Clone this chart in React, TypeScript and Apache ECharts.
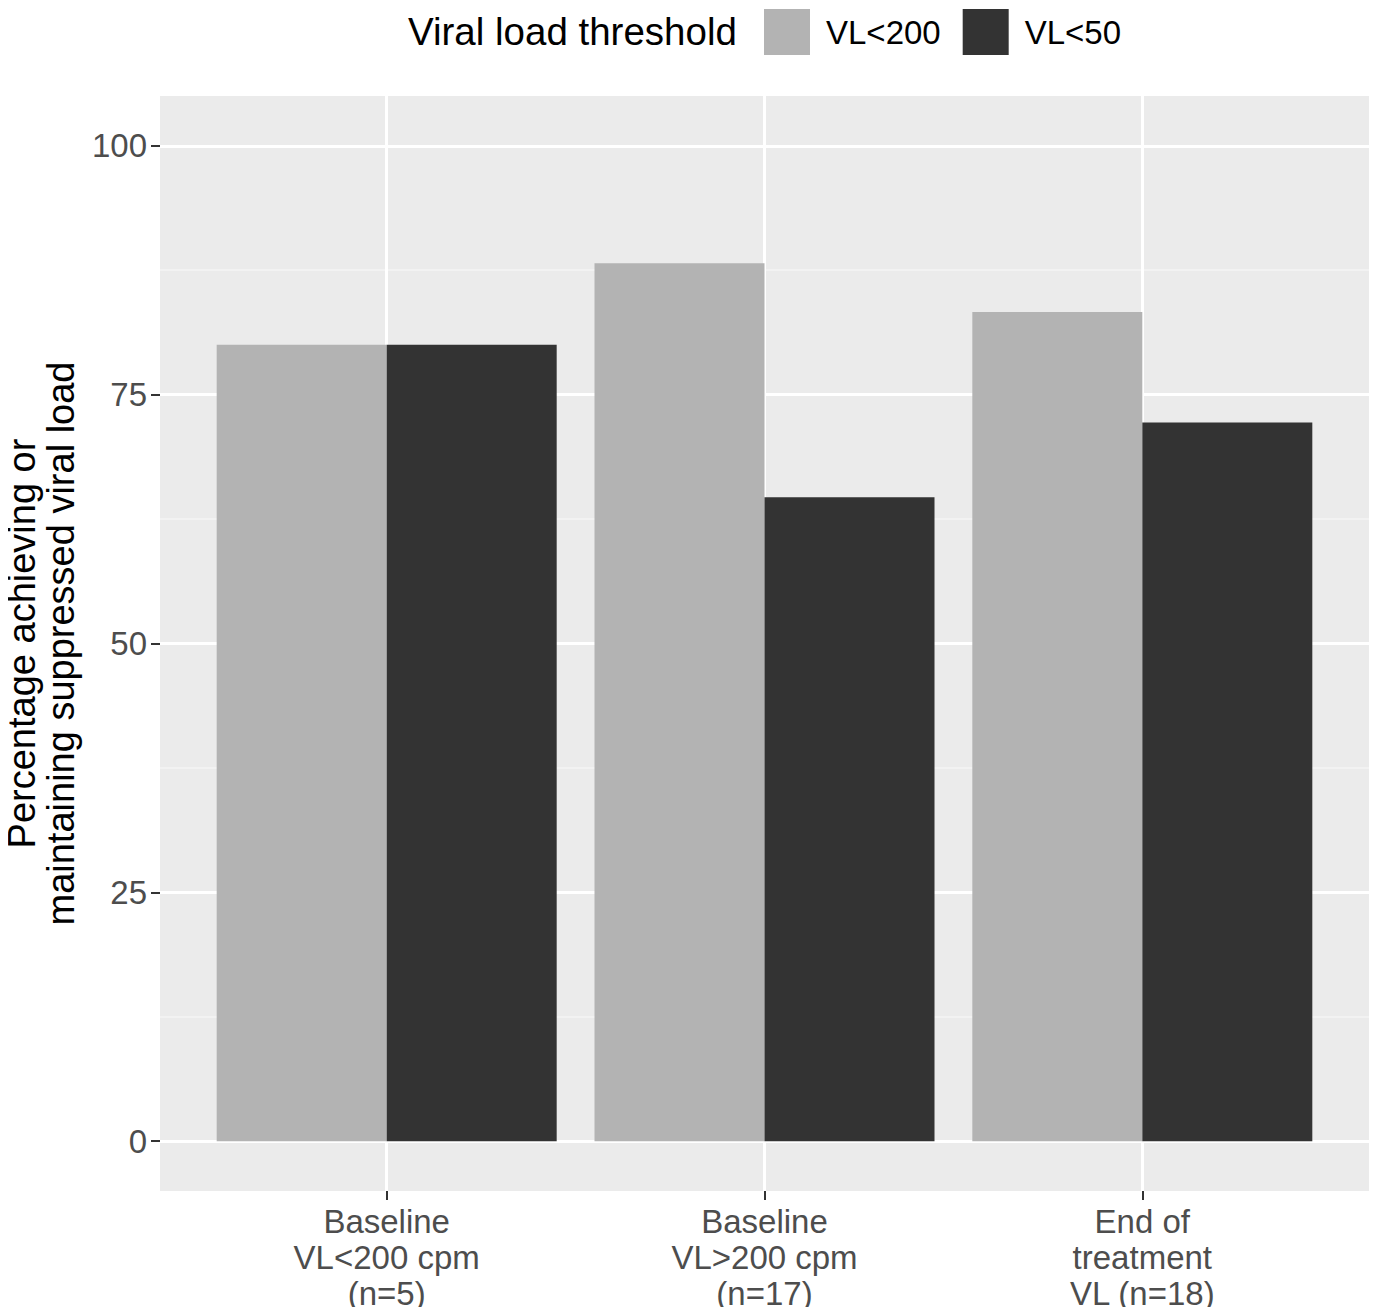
import { useEffect, useRef } from 'react'
import * as echarts from 'echarts'

const categories = ['Baseline\nVL<200 cpm\n(n=5)', 'Baseline\nVL>200 cpm\n(n=17)', 'End of\ntreatment\nVL (n=18)']
const vl200 = [80, 88.2, 83.3]
const vl50 = [80, 64.7, 72.2]
const yTicks = [0, 25, 50, 75, 100]
const yMinor = [12.5, 37.5, 62.5, 87.5]
const xPos = categories.map((_, i) => i + 1)

const FONT = 'Liberation Sans, Arial, sans-serif'

export default function App() {
  const ref = useRef<HTMLDivElement>(null)

  useEffect(() => {
    if (!ref.current) return
    const chart = echarts.init(ref.current, undefined, { renderer: 'svg' })

    const yBase = {
      type: 'value',
      min: -5,
      max: 105,
      axisLine: { show: false, onZero: false },
    }

    chart.setOption({
      animation: false,
      backgroundColor: '#ffffff',
      textStyle: { fontFamily: FONT },
      graphic: [
        {
          type: 'text',
          left: 408,
          top: 12,
          style: { text: 'Viral load threshold', font: `38.5px ${FONT}`, fill: '#000000' },
        },
      ],
      legend: {
        left: 759,
        top: 4,
        itemWidth: 46,
        itemHeight: 46,
        itemGap: 22,
        icon: 'rect',
        textStyle: { fontSize: 33, color: '#000000', padding: [0, 0, 0, 11] },
        data: ['VL<200', 'VL<50'],
      },
      grid: {
        left: 160,
        right: 8,
        top: 96,
        bottom: 124,
        outerBoundsMode: 'none',
        containLabel: false,
        backgroundColor: '#ebebeb',
        show: true,
        borderWidth: 0,
      },
      xAxis: {
        type: 'value',
        min: 0.4,
        max: 3.6,
        axisLine: { show: false, onZero: false },
        axisTick: { show: true, length: 9, customValues: xPos, lineStyle: { color: '#333333', width: 2 } },
        axisLabel: {
          customValues: xPos,
          margin: 12,
          fontSize: 33,
          lineHeight: 36,
          color: '#4d4d4d',
          formatter: (v: number) => categories[Math.round(v) - 1] ?? '',
        },
        splitLine: { show: true, lineStyle: { color: '#ffffff', width: 3 } },
      },
      yAxis: [
        {
          ...yBase,
          name: 'Percentage achieving or\nmaintaining suppressed viral load',
          nameLocation: 'middle',
          nameRotate: 90,
          nameGap: 80,
          nameTextStyle: { fontSize: 38, color: '#000000', lineHeight: 39 },
          axisTick: { show: true, length: 9, customValues: yTicks, lineStyle: { color: '#333333', width: 2 } },
          axisLabel: { customValues: yTicks, margin: 13, fontSize: 33, color: '#4d4d4d' },
          splitLine: { show: true, lineStyle: { color: '#ffffff', width: 3 } },
        },
        {
          ...yBase,
          position: 'left',
          axisTick: { show: false, customValues: yMinor },
          axisLabel: { show: false, customValues: yMinor },
          splitLine: { show: true, lineStyle: { color: '#f5f5f5', width: 1.5 } },
        },
      ],
      series: [
        {
          name: 'VL<200',
          type: 'bar',
          barWidth: 170,
          barGap: '0%',
          itemStyle: { color: '#b3b3b3' },
          data: vl200.map((v, i) => [xPos[i], v]),
          z: 3,
        },
        {
          name: 'VL<50',
          type: 'bar',
          barWidth: 170,
          barGap: '0%',
          itemStyle: { color: '#333333' },
          data: vl50.map((v, i) => [xPos[i], v]),
          z: 3,
        },
      ],
    })

    return () => chart.dispose()
  }, [])

  return <div ref={ref} style={{ width: 1377, height: 1315, margin: -8 }} />
}
